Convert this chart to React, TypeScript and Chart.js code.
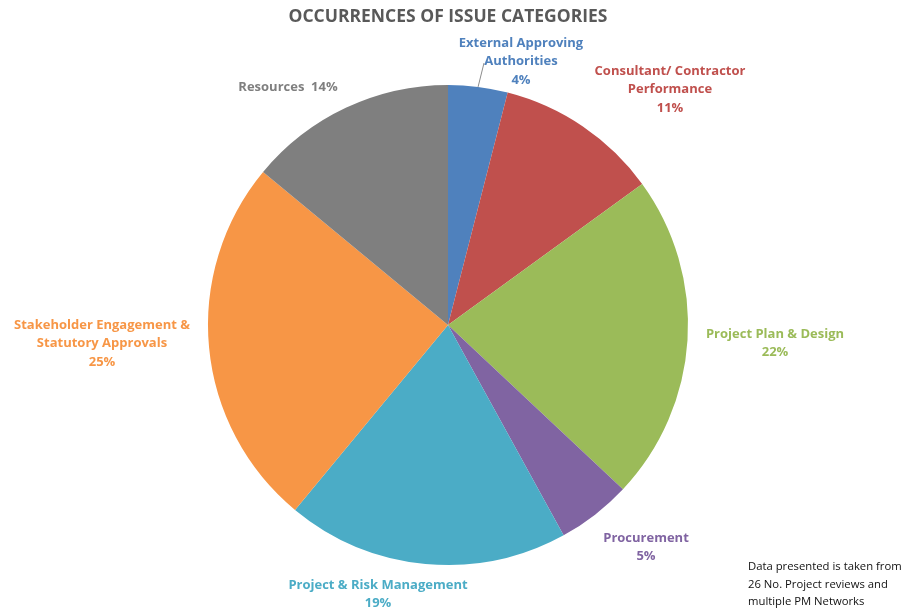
import React, { useEffect, useRef } from "react";
import { Chart, registerables } from "chart.js";

Chart.register(...registerables);

const TITLE = "OCCURRENCES OF ISSUE CATEGORIES";
const CATEGORIES = [
  "External Approving Authorities",
  "Consultant/ Contractor Performance",
  "Project Plan & Design",
  "Procurement",
  "Project & Risk Management",
  "Stakeholder Engagement & Statutory Approvals",
  "Resources",
];
const VALUES = [4, 11, 22, 5, 19, 25, 14];
const LABEL_LINES = [
  ["External Approving", "Authorities", "4%"],
  ["Consultant/ Contractor", "Performance", "11%"],
  ["Project Plan & Design", "22%"],
  ["Procurement", "5%"],
  ["Project & Risk Management", "19%"],
  ["Stakeholder Engagement &", "Statutory Approvals", "25%"],
  ["Resources  14%"],
];
const COLORS = ["#4F81BD", "#C0504D", "#9BBB59", "#8064A2", "#4BACC6", "#F79646", "#7F7F7F"];
const NOTE = ["Data presented is taken from", "26 No. Project reviews and", "multiple PM Networks"];

// label block centers (first line), as offsets from the pie centre
const LABEL_OFFSETS = [
  [73, -282],
  [222, -254],
  [327, 9],
  [198, 213],
  [-70, 260],
  [-346, 0],
  [-160, -238],
];

const labelPlugin = {
  id: "customLabels",
  afterDraw(chart: any) {
    const ctx = chart.ctx;
    const meta = chart.getDatasetMeta(0);
    const arc = meta.data[0];
    const cx = arc.x;
    const cy = arc.y;
    const r = arc.outerRadius;
    ctx.save();
    // title
    ctx.fillStyle = "#595959";
    ctx.font = "bold 17.5px 'Open Sans'";
    ctx.textAlign = "center";
    ctx.textBaseline = "middle";
    ctx.fillText(TITLE, cx, 17);

    // labels
    ctx.font = "bold 13px 'Open Sans'";
    LABEL_LINES.forEach((lines, i) => {
      const [dx, dy] = LABEL_OFFSETS[i];
      ctx.fillStyle = COLORS[i];
      lines.forEach((t, j) => {
        ctx.fillText(t, cx + dx, cy + dy + j * 18.5);
      });
    });

    // leader line for first slice
    const a0 = (arc.startAngle + arc.endAngle) / 2;
    ctx.strokeStyle = "#8c8c8c";
    ctx.lineWidth = 1;
    ctx.beginPath();
    ctx.moveTo(cx + Math.cos(a0) * r, cy + Math.sin(a0) * r);
    ctx.lineTo(cx + 36, cy - r - 22);
    ctx.stroke();

    // note
    ctx.fillStyle = "#111111";
    ctx.font = "11.3px 'Open Sans'";
    ctx.textAlign = "left";
    NOTE.forEach((t, j) => ctx.fillText(t, 748, 567 + j * 17.5));
    ctx.restore();
  },
};

export default function App() {
  const ref = useRef<HTMLCanvasElement | null>(null);
  useEffect(() => {
    if (!ref.current) return;
    const chart = new Chart(ref.current, {
      type: "pie",
      data: {
        labels: CATEGORIES,
        datasets: [
          {
            data: VALUES,
            backgroundColor: COLORS,
            borderWidth: 0,
          },
        ],
      },
      options: {
        responsive: false,
        animation: false,
        layout: { padding: { left: 208, right: 215, top: 85, bottom: 46 } },
        plugins: {
          legend: { display: false },
          tooltip: { enabled: false },
          title: { display: false },
        },
      },
      plugins: [labelPlugin],
    });
    return () => chart.destroy();
  }, []);
  return (
    <div style={{ position: "fixed", left: 0, top: 0, width: 903, height: 611, background: "#fff" }}>
      <canvas ref={ref} width={903} height={611} />
    </div>
  );
}
